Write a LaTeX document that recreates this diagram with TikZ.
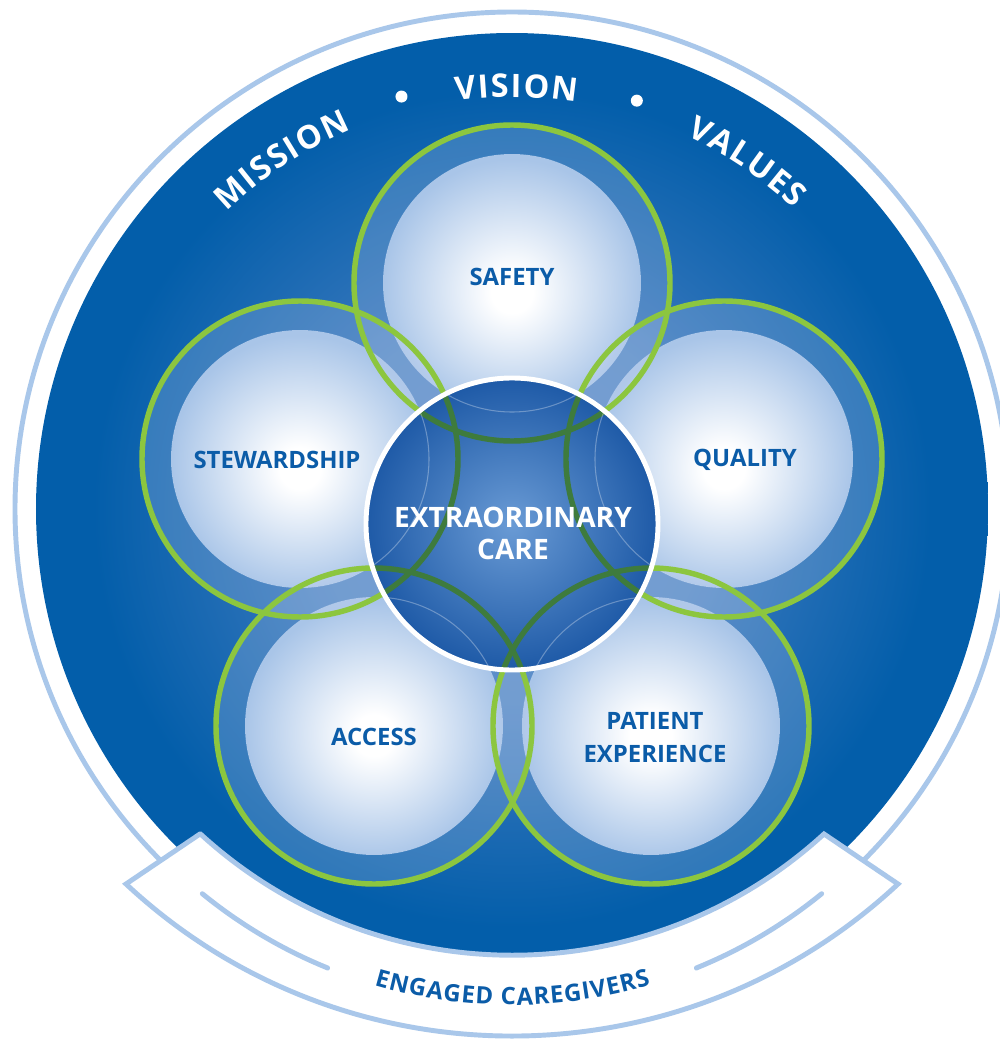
\documentclass[tikz,border=0pt]{standalone}
\usepackage{fontspec}
\setmainfont{Open Sans}
\usetikzlibrary{decorations.text,calc}

\definecolor{diskblue}{HTML}{035EAA}
\definecolor{diskmid}{HTML}{4A80C3}
\definecolor{pale}{HTML}{A9C5E8}
\definecolor{ringblue}{HTML}{A9C7EA}
\definecolor{leaf}{HTML}{8CC63F}
\definecolor{darkleaf}{HTML}{3E7B3D}
\definecolor{inkblue}{HTML}{0B5CA8}
\definecolor{coreblue}{HTML}{1E5AA7}
\definecolor{corelight}{HTML}{6A9BD5}
\definecolor{haze}{HTML}{C9D6F0}

\pgfdeclareradialshading{disk}{\pgfpoint{0bp}{0bp}}{color(0bp)=(diskmid); color(10bp)=(diskmid!80!diskblue); color(22bp)=(diskblue); color(50bp)=(diskblue)}
\pgfdeclareradialshading{bubble}{\pgfpoint{0bp}{-2bp}}{color(0bp)=(white); color(4bp)=(white); color(25bp)=(pale); color(50bp)=(pale)}
\pgfdeclareradialshading{core}{\pgfpoint{0bp}{0bp}}{color(0bp)=(corelight); color(25bp)=(coreblue); color(50bp)=(coreblue)}

\newcommand\lblfont{\fontsize{6.8}{9.4}\selectfont\bfseries}
\newcommand\corefont{\fontsize{8}{9.1}\selectfont\bfseries}
\newcommand\topfont{\fontsize{9.2}{11}\selectfont\bfseries}

\begin{document}
\begin{tikzpicture}[x=0.01cm,y=0.01cm,
  lbl/.style={text=inkblue,font=\lblfont,align=center,inner sep=0pt},
  leafring/.style={draw=leaf,line width=1.55pt},
  paleline/.style={draw=ringblue,line width=1.4pt}]
\useasboundingbox (0,0) rectangle (1000,1041);
\clip (0,0) rectangle (1000,1041);
\fill[white] (0,0) rectangle (1000,1041);
\coordinate (mid) at (512,532);
\coordinate (bend) at (512,527);
\coordinate (safety) at (512,758);
\coordinate (quality) at (724,582);
\coordinate (patient) at (651,315);
\coordinate (access) at (374,315);
\coordinate (stewardship) at (300,582);
\coordinate (core) at (512,517);

\draw[paleline] (mid) circle[radius=497];
\shade[shading=disk] (mid) circle[radius=476];

\foreach \c in {safety,quality,patient,access,stewardship}
  \shade[shading=bubble] (\c) circle[radius=129];
\foreach \c in {safety,quality,patient,access,stewardship}
  \fill[haze,opacity=.22,even odd rule] (\c) circle[radius=158] (\c) circle[radius=129];
\foreach \c in {safety,quality,patient,access,stewardship}
  \draw[leafring] (\c) circle[radius=158];

\shade[shading=core] (core) circle[radius=146];
\begin{scope}
\clip (core) circle[radius=146];
\foreach \c in {safety,quality,patient,access,stewardship}{
  \draw[leafring,draw=darkleaf] (\c) circle[radius=158];
  \draw[white,opacity=.3,line width=.3pt] (\c) circle[radius=129];
}
\end{scope}
\draw[white,line width=1.4pt] (core) circle[radius=146];

% banner
\filldraw[paleline,fill=white] (200,207) -- (126,157) arc[start angle=227,end angle=313,radius=566]
  -- (824,207) arc[start angle=312.5,end angle=227.5,radius=461.5] -- cycle;
\draw[paleline,line cap=round] ($(bend)+(230.8:490)$) arc[start angle=230.8,end angle=247.9,radius=490];
\draw[paleline,line cap=round] ($(bend)+(292.1:490)$) arc[start angle=292.1,end angle=309.2,radius=490];
\path[decorate,decoration={text along path,text align=center,text color=inkblue,
  text={|\lblfont\kern.25pt|ENGAGED CAREGIVERS}}] ($(mid)+(240:496)$) arc[start angle=240,end angle=300,radius=496];

\foreach \w/\a in {MISSION/123.5,VISION/89.5,VALUES/56}
  \path[decorate,decoration={text along path,text align=center,text color=white,
    text/.expanded={|\noexpand\topfont\noexpand\kern.5pt|\w}}] ($(mid)+(\a+15:412)$) arc[start angle=\a+15,end angle=\a-15,radius=412];
\fill[white] ($(mid)+(105:427)$) circle[radius=6];
\fill[white] ($(mid)+(73:427)$) circle[radius=6];

\node[lbl] (safetylbl) at (512,764) {SAFETY};
\node[lbl] (qualitylbl) at (745,581) {QUALITY};
\node[lbl] (stewardshiplbl) at (277,581) {STEWARDSHIP};
\node[lbl] (accesslbl) at (374,304) {ACCESS};
\node[lbl] (patientlbl) at (655,303) {PATIENT\\EXPERIENCE};
\node[lbl,text=white,font=\corefont] (corelbl) at (513,508) {EXTRAORDINARY\\CARE};
\end{tikzpicture}
\end{document}
